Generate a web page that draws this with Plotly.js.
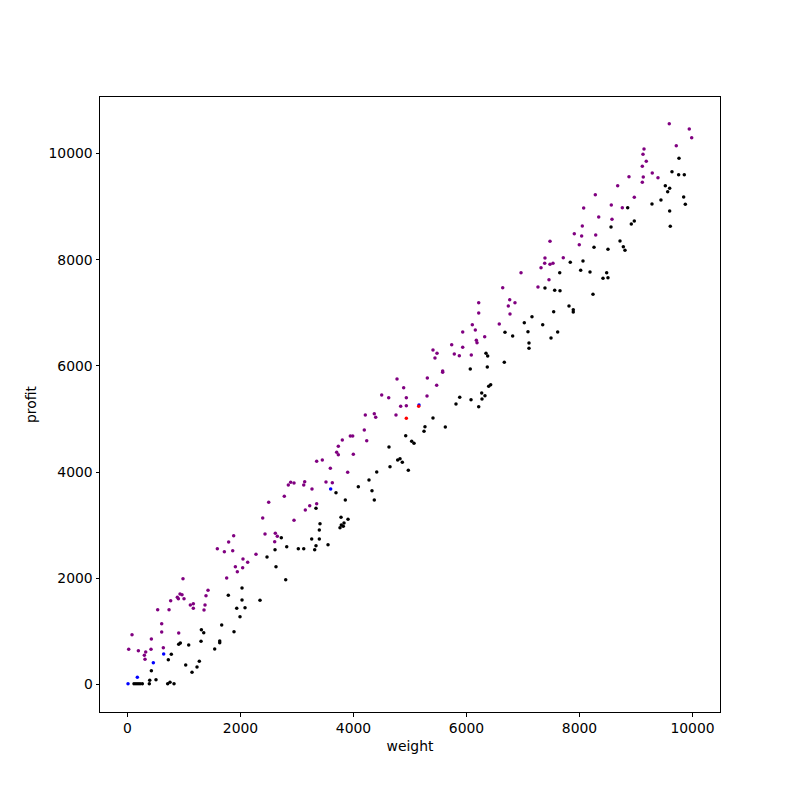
<!DOCTYPE html>
<html>
<head>
<meta charset="utf-8">
<script src="https://cdn.plot.ly/plotly-3.0.1.min.js"></script>
<style>html,body{margin:0;padding:0;background:#fff;}#chart{width:800px;height:800px;}</style>
</head>
<body>
<div id="chart"></div>
<script>
// Purple points
const purpleWeight = [982,929,965,882,900,1000,764,534,735,605,605,906,80,422,21,192,322,298,416,634,310,
1879,1790,1590,1714,1862,2044,2127,1909,2038,1944,1755,1425,1389,1112,1165,1165,1372,1354,
2888,2947,2846,2775,2499,2393,2947,2434,2616,2651,2605,2274,
3944,3986,3802,3731,3702,3731,3997,3348,3448,3590,3897,3136,3119,3513,3625,3265,3225,3348,3147,
4770,4888,4499,4623,4935,4835,4935,4209,4368,4393,4752,4191,4234,
5738,5933,5407,5478,5784,5873,6085,5442,5578,5578,5307,5472,5301,
6641,6765,6858,6216,6740,6216,6770,6103,6580,6156,5933,6174,6186,6322,
7908,8038,7478,7996,7389,7713,7384,7478,7531,7319,6965,7460,7265,
8876,8676,8280,8970,8074,8563,8758,8340,8575,8050,8287,
9589,9943,9986,9713,9142,9124,9182,9112,9288,9389,9129,9112];
const purpleProfit = [1993,1704,1691,1642,1616,1616,1578,1409,1409,1145,989,970,938,857,663,637,612,550,663,693,475,
2803,2684,2558,2502,2520,2364,2301,2219,2200,2125,2006,1774,1672,1497,1522,1435,1497,1403,
3808,3795,3757,3544,3431,3136,3092,2834,2847,2791,2689,2452,
4680,4680,4605,4486,4373,4328,4335,4203,4228,4072,3996,3819,3757,3814,3800,3682,3367,3405,3286,
5753,5590,5452,5401,5401,5239,5251,5075,5100,5032,5075,4793,4591,
6399,6350,6299,6237,6224,6192,6205,6149,5904,5879,5772,5634,5433,
7473,7247,7190,7190,7128,6996,6977,6776,6789,6676,6638,6482,6437,6550,
8490,8446,8346,8283,8032,8038,7932,7913,7932,7850,7755,7623,7486,
9563,9394,9224,9175,8973,9030,8980,8804,8760,8635,8465,
10561,10461,10298,10147,10085,9985,9853,9759,9633,9544,9557,9458];

// Black points
const blackWeight = [935,906,775,722,422,393,504,115,150,186,221,262,386,711,752,823,
2027,1784,2027,1933,2080,1991,1667,1307,1349,1885,1083,1301,1632,1632,1543,1030,1271,1230,1142,
2722,2818,3023,2611,2469,2628,2800,2345,
4085,3690,3855,3336,3779,3903,3832,3784,3819,3761,3407,3395,3260,3395,3336,3549,3313,3119,
4924,5030,5071,4628,4823,4782,4864,4646,4970,4411,4274,4327,4368,
6067,5880,6080,5814,5407,5265,5625,5248,
7023,6681,6817,6345,6375,6669,6368,6428,6393,6269,6327,6274,6216,
7837,8062,7650,8021,7389,7561,7655,7814,7890,7890,7543,7159,7349,7614,7088,7496,7106,7106,
8853,8970,8917,8558,8717,8776,8805,8257,8504,8186,8481,8416,8504,8239,
9761,9637,9755,9855,9519,9596,9561,9442,9844,9283,9873,9596,9607];
const blackProfit = [781,757,569,467,260,79,90,15,15,15,15,15,15,15,41,15,
1817,1680,1591,1435,1446,1277,1121,1032,976,995,744,814,819,787,669,367,437,330,230,
2765,2595,2557,2539,2401,2219,1974,1586,
3725,3612,3475,3318,3149,3111,3041,3004,2979,2953,3028,2910,2740,2740,2614,2633,2539,2557,
4686,4580,4542,4473,4252,4228,4185,4102,4034,4002,3851,3650,3475,
5942,5409,5364,5282,5019,4855,4849,4768,
6814,6633,6563,6237,6186,6068,5979,5646,5615,5490,5439,5377,5232,
7951,7976,7755,7800,7467,7424,7416,7128,7059,7015,7021,6927,6776,6638,6645,6525,6431,6331,
8980,8729,8672,8616,8352,8245,8177,8234,8196,7768,7755,7650,7661,7348,
9910,9657,9601,9601,9394,9344,9281,9124,9181,9049,9043,8917,8629];

// Blue points
const blueWeight = [640,457,174,9,3596,5159];
const blueProfit = [574,411,136,15,3682,5264];

// Red points
const redWeight = [4935,5154];
const redProfit = [5013,5240];

const tickVals = [0,2000,4000,6000,8000,10000];

function trace(x, y, color) {
  return {x: x, y: y, type: 'scatter', mode: 'markers',
    marker: {color: color, size: 3.5, line: {width: 0}}, showlegend: false, hoverinfo: 'x+y'};
}

const data = [
  trace(blackWeight, blackProfit, '#000000'),
  trace(purpleWeight, purpleProfit, '#800080'),
  trace(blueWeight, blueProfit, '#0000ff'),
  trace(redWeight, redProfit, '#ff0000')
];

const axisCommon = {
  showgrid: false, zeroline: false, showline: true, linecolor: '#000', linewidth: 1,
  mirror: true, ticks: 'outside', ticklen: 3.5, tickwidth: 1, tickcolor: '#000',
  tickformat: 'd', tickfont: {family: 'DejaVu Sans', size: 13.9, color: '#000'}
};

const layout = {
  width: 800, height: 800,
  paper_bgcolor: '#fff', plot_bgcolor: '#fff',
  margin: {l: 100, r: 80, t: 97, b: 88, pad: 0},
  font: {family: 'DejaVu Sans', size: 13.9, color: '#000'},
  xaxis: Object.assign({}, axisCommon, {
    range: [-487, 10487], tickvals: tickVals,
    title: {text: 'weight', font: {family: 'DejaVu Sans', size: 13.9, color: '#000'}, standoff: 6}
  }),
  yaxis: Object.assign({}, axisCommon, {
    range: [-518, 11064], tickvals: tickVals,
    title: {text: 'profit', font: {family: 'DejaVu Sans', size: 13.9, color: '#000'}, standoff: 8}
  })
};

Plotly.newPlot('chart', data, layout, {displayModeBar: false, staticPlot: true});
</script>
</body>
</html>
